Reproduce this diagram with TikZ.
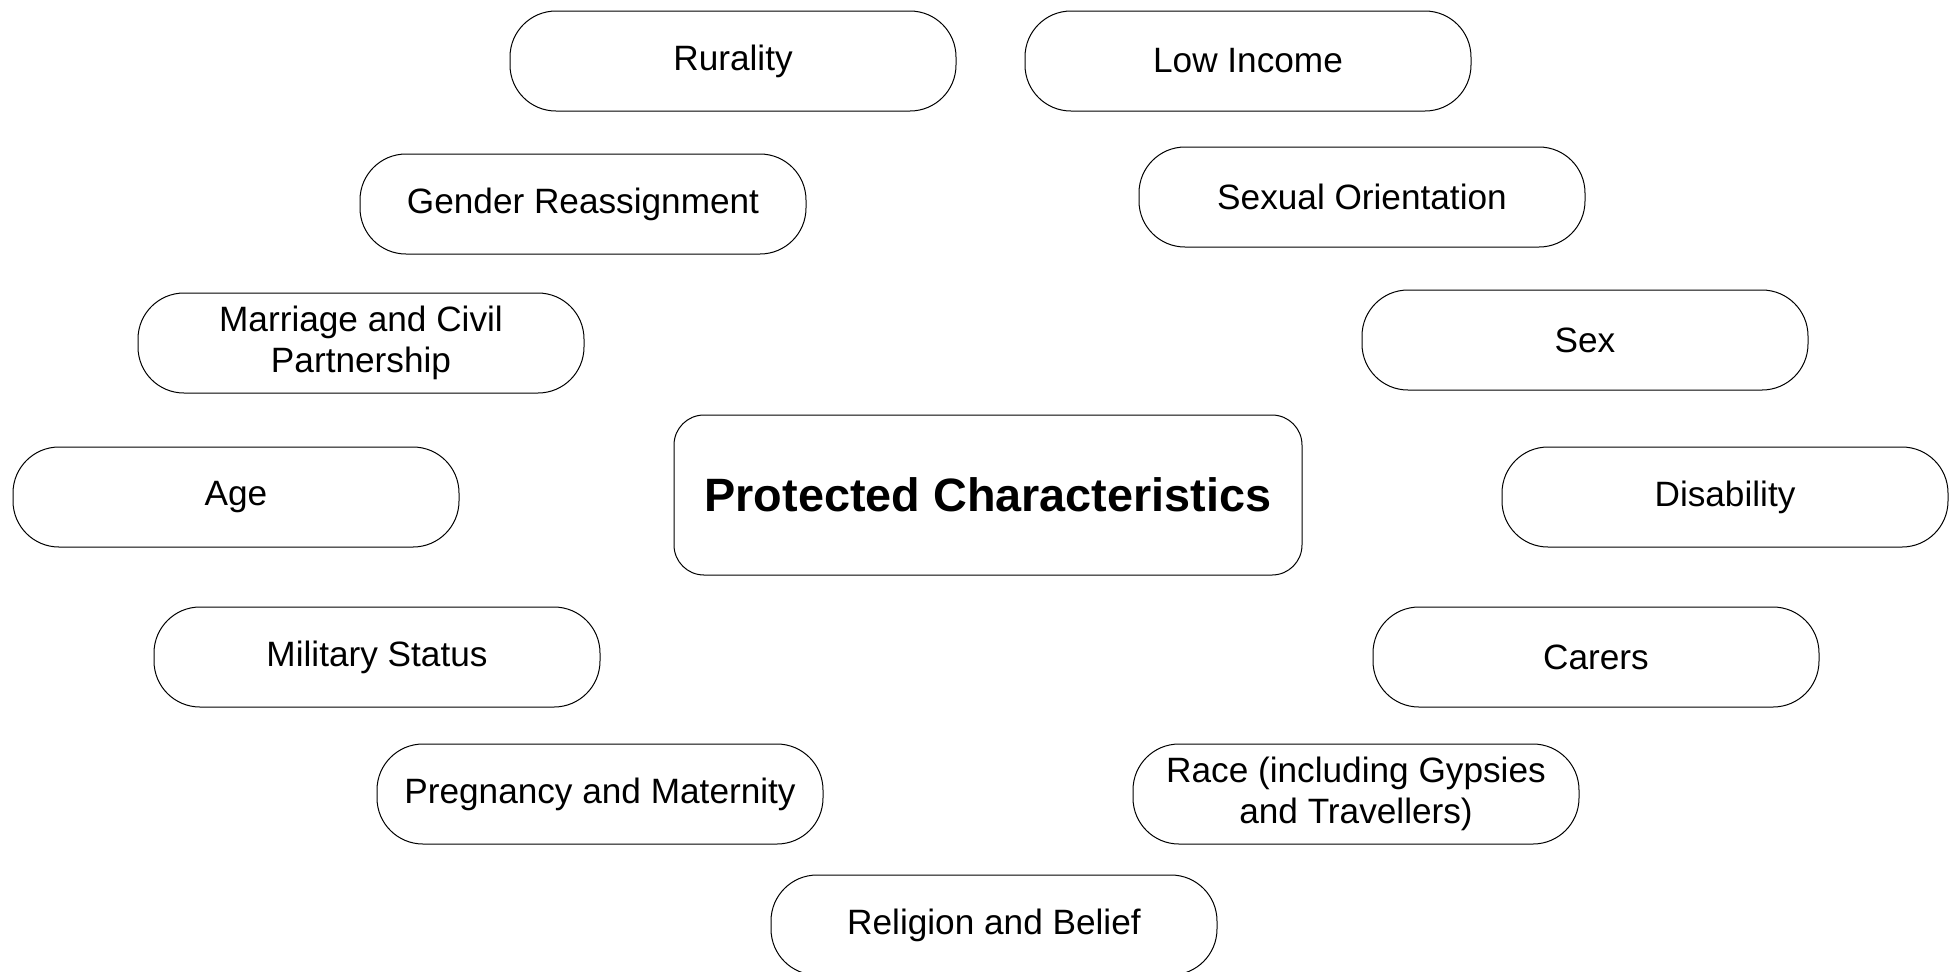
\documentclass[tikz,border=0pt]{standalone}
\usepackage{fontspec}
\setmainfont{Liberation Sans}
\begin{document}
\begin{tikzpicture} [x=0.5pt, y=-0.5pt, item box/.style={draw, line width=0.5pt, rounded corners=23pt, minimum width=223pt, minimum height=50pt, inner sep=0pt, align=center, font=\fontsize{17.6}{20.5}\selectfont}, main box/.style={draw, line width=0.5pt, rounded corners=15pt, minimum width=314pt, minimum height=80pt, inner sep=0pt, font=\fontsize{23.4}{27}\selectfont\bfseries}]
                \useasboundingbox (0,0) rectangle (1951,971);
                \node[main box] (protected) at (988,495) {Protected Characteristics};
                \node[item box] (rurality) at (733,61) {Rurality};
                \node[item box] (income) at (1248,61) {Low Income};
                \node[item box] (gender) at (583,204) {Gender Reassignment};
                \node[item box] (orientation) at (1362,197) {Sexual Orientation};
                \node[item box] (marriage) at (361,343) {Marriage and Civil\\Partnership};
                \node[item box] (sex) at (1585,340) {Sex};
                \node[item box] (age) at (236,497) {Age};
                \node[item box] (disability) at (1725,497) {Disability};
                \node[item box] (military) at (377,657) {Military Status};
                \node[item box] (carers) at (1596,657) {Carers};
                \node[item box] (pregnancy) at (600,794) {Pregnancy and Maternity};
                \node[item box] (race) at (1356,794) {Race (including Gypsies\\and Travellers)};
                \node[item box] (religion) at (994,925) {Religion and Belief};
            \end{tikzpicture}
\end{document}
